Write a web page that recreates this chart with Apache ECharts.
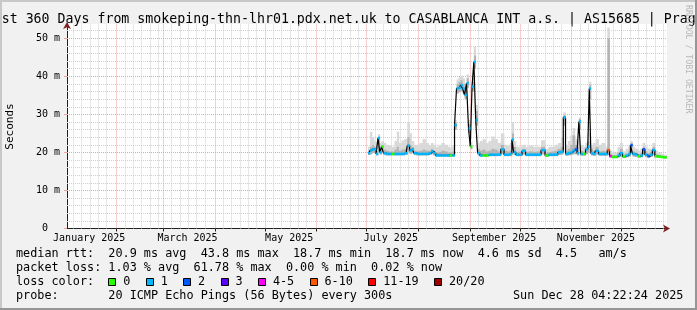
<!DOCTYPE html>
<html><head><meta charset="utf-8">
<script src="https://cdn.jsdelivr.net/npm/echarts@6/dist/echarts.min.js"></script>
<style>html,body{margin:0;padding:0;background:#f1f1f1;}#c{width:697px;height:310px;}</style>
</head><body><div id="c"></div>
<script>
// ---- data (day of year 2025, values in ms) ----
const sampleDay = [182.4,183.6,184.8,186.0,187.2,188.4,189.3,190.5,191.7,193.2,
 195.0,196.8,198.6,199.5,201.0,202.8,204.6,206.1,207.3,208.5,
 210.0,211.8,213.6,215.4,217.2,219.0,220.2,221.7,223.2,225.0,
 226.8,228.6,230.4,231.6,233.1,234.3,235.5,236.7,237.9,239.1,
 240.3,241.5,242.7,243.6,244.8,245.8,247.0,248.1,249.6,251.4,
 253.2,255.0,256.5,258.6,260.4,262.5,264.3,266.1,267.6,268.6,
 269.8,271.2,273.0,275.4,277.2,279.6,282.0,284.4,286.8,289.2,
 291.0,292.8,294.6,296.7,298.2,299.7,300.9,302.4,303.9,305.1,
 306.6,307.8,308.8,309.9,311.4,313.2,314.1,315.0,316.0,317.4,
 319.2,321.0,322.8,324.6,326.1,327.3,328.8,330.6,332.4,333.6,
 335.4,337.2,338.7,339.8,341.1,342.6,344.4,345.9,347.2,348.6,
 350.1,351.6,353.2,354.6,356.4,358.2,360.0];
const median = [19.8,20.5,20.8,20.8,19.6,23.8,20.0,21.5,19.8,19.6,
 19.6,19.6,19.6,19.6,19.6,19.6,19.8,21.8,20.5,20.8,
 19.8,19.6,19.6,19.6,19.6,19.8,20.3,19.8,19.2,19.2,
 19.2,19.2,19.2,19.2,19.2,27.2,36.8,37.0,37.7,36.8,
 35.1,38.2,26.3,21.5,37.3,43.8,28.5,19.8,19.2,19.2,
 19.2,19.4,19.4,19.4,19.4,20.8,19.4,19.4,19.6,23.4,
 20.0,19.4,19.4,20.4,19.4,19.4,19.4,19.4,20.6,19.2,
 19.4,19.4,19.4,20.0,20.2,29.2,19.6,19.8,20.0,20.5,
 20.8,19.8,28.1,19.6,19.6,20.8,21.5,36.8,19.8,19.6,
 20.4,19.6,19.6,19.6,20.6,19.0,18.8,18.8,19.2,19.8,
 18.9,19.2,19.6,21.9,19.6,19.4,19.0,19.2,20.8,19.4,
 19.0,19.4,20.6,19.0,18.9,18.8,18.7];
const smokeLow = [19.3,19.5,19.8,19.8,19.2,20.0,19.4,20.0,19.3,19.2,
 19.2,19.2,19.2,19.2,19.2,19.2,19.3,20.0,19.6,19.8,
 19.3,19.2,19.2,19.2,19.2,19.3,19.5,19.2,18.9,18.9,
 18.9,18.9,18.9,18.9,18.9,26.0,35.5,35.8,36.2,35.5,
 34.0,37.0,25.0,20.8,36.0,42.0,27.0,19.2,18.9,18.9,
 18.9,19.0,19.0,19.0,19.0,19.6,19.0,19.0,19.0,21.0,
 19.3,19.0,19.0,19.4,19.0,19.0,19.0,19.0,19.5,18.8,
 19.0,19.0,19.0,19.3,19.4,27.0,19.1,19.2,19.3,19.5,
 19.5,19.2,26.0,19.1,19.1,19.5,20.0,34.0,19.2,19.1,
 19.4,19.1,19.1,19.1,19.3,18.6,18.5,18.5,18.7,18.9,
 18.5,18.7,18.9,20.0,18.9,18.8,18.6,18.7,19.5,18.8,
 18.6,18.8,19.3,18.6,18.6,18.5,18.4];
const smokeMid = [20.5,21.5,22.0,21.5,20.5,24.2,21.0,22.0,20.8,20.5,
 20.3,20.3,20.8,21.5,20.5,20.8,21.0,24.0,22.0,21.5,
 20.5,20.3,20.5,20.8,20.5,20.5,21.0,20.5,20.0,20.2,
 20.5,20.3,20.0,20.0,20.3,27.8,38.0,38.5,39.0,38.0,
 36.5,39.5,27.5,22.0,38.5,45.5,31.0,21.0,20.5,20.8,
 20.3,20.5,21.0,20.8,20.3,22.0,20.5,20.3,20.5,25.0,
 21.5,20.2,20.2,21.0,20.2,20.3,20.2,20.3,21.5,20.0,
 20.2,20.3,20.5,21.0,21.5,29.8,20.5,21.0,22.0,24.5,
 22.0,21.5,28.8,20.5,20.3,21.5,23.0,37.8,21.0,20.5,
 21.5,20.3,20.5,20.3,50.0,19.6,19.3,19.3,20.0,21.0,
 19.5,19.8,20.5,22.5,20.3,20.0,19.6,20.0,21.5,20.3,
 19.8,20.2,21.5,19.6,19.4,19.2,19.0];
const smokeHigh = [21.5,25.4,24.0,23.0,22.5,24.8,22.5,23.0,22.5,22.0,
 21.8,21.5,23.0,25.5,22.5,23.2,23.5,28.0,25.0,23.0,
 22.0,22.0,22.5,23.5,22.5,22.0,22.5,22.0,21.5,22.0,
 22.5,22.0,21.5,21.2,21.8,28.5,39.2,39.8,40.2,39.5,
 37.8,40.5,28.5,22.8,39.5,47.8,32.5,22.5,23.0,23.5,
 22.5,23.0,24.2,23.5,22.5,25.0,22.0,21.8,22.5,28.0,
 23.0,21.5,21.5,22.0,21.5,21.8,21.5,21.5,23.2,21.0,
 21.5,21.5,22.0,22.5,24.0,30.5,22.0,23.0,24.5,26.4,
 23.5,23.0,29.2,22.0,21.5,22.5,25.0,38.6,22.0,22.5,
 23.5,22.0,22.5,21.5,52.8,20.5,20.0,20.0,21.5,22.5,
 20.3,21.0,21.8,23.0,21.5,21.0,20.5,21.0,22.5,21.5,
 21.0,21.0,22.5,20.5,20.0,19.6,19.4];
const lossBand = [1,1,1,1,1,1,1,0,1,1,
 1,0,1,1,1,1,1,1,1,1,
 1,1,1,1,1,1,1,1,1,1,
 1,1,1,0,1,1,1,1,1,1,
 1,1,1,0,1,1,1,1,1,0,
 0,1,1,1,1,1,1,1,1,1,
 1,1,1,1,1,1,1,1,1,0,
 1,1,1,1,1,1,1,1,1,1,
 2,1,1,1,0,1,1,1,1,1,
 1,1,1,1,5,4,0,0,1,1,
 0,1,1,2,1,1,0,1,2,1,
 2,1,1,0,0,0,0];
const lossLabels = ['0','1','2','3','4-5','6-10','11-19','20/20'];
const lossColors = ['#26ff00','#00b8ff','#0059ff','#5e00ff','#ff00ff','#ff5500','#ff0000','#a10000'];
const yTickValues = [0,10,20,30,40,50];
const xLabelText = ['January 2025','March 2025','May 2025','July 2025','September 2025','November 2025'];
const xLabelMonth = [0,2,4,6,8,10];
const titleText = 'st 360 Days from smokeping-thn-lhr01.pdx.net.uk to CASABLANCA INT a.s. | AS15685 | Prague';
const statRows = [
 'median rtt:  20.9 ms avg  43.8 ms max  18.7 ms min  18.7 ms now  4.6 ms sd  4.5   am/s',
 'packet loss: 1.03 % avg  61.78 % max  0.00 % min  0.02 % now',
 'loss color:',
 'probe:       20 ICMP Echo Pings (56 Bytes) every 300s'
];
const stampText = 'Sun Dec 28 04:22:24 2025';

// ---- layout ----
const DAY = 86400000;
const T0 = Date.UTC(2025,0,1);
const START = T0 + (1 + (4*3600+22*60+24)/86400)*DAY;
const END = START + 360*DAY;
const YMAX = 53.75;
const G = {left:67, right:30, top:24, bottom:81.5};
const plotW = 697 - G.left - G.right, plotH = 310 - G.top - G.bottom;
const MONO = 'DejaVu Sans Mono';
const CW = 7.1;

const times = sampleDay.map(d => T0 + d*DAY);
const N = times.length;
function leftEdge(i) { return i > 0 ? (times[i] + times[i-1]) / 2 : times[0] - (times[1]-times[0]) / 2; }
function rightEdge(i) { return i < N-1 ? (times[i] + times[i+1]) / 2 : times[i] + (times[i]-times[i-1]) / 2; }
const labelTimes = xLabelMonth.map(m => Date.UTC(2025, m, 15, 12));
const monthStarts = [];
for (let m = 1; m < 12; m++) monthStarts.push(Date.UTC(2025, m, 1));
const minorX = [];
for (let m = 0; m < 12; m++) for (const d of [6,11,16,21,26]) {
  const t = Date.UTC(2025, m, d); if (t > START && t < END) minorX.push(t);
}
const minorY = [], majorY = [10,20,30,40,50];
for (let v = 2; v < YMAX; v += 2) if (v % 10) minorY.push(v);

const baseX = {type:'value', min:START, max:END, position:'bottom',
  axisLine:{show:false,onZero:false}, axisTick:{show:false}, axisLabel:{show:false}, splitLine:{show:false}};
const baseY = {type:'value', min:0, max:YMAX, position:'left',
  axisLine:{show:false,onZero:false}, axisTick:{show:false}, axisLabel:{show:false}, splitLine:{show:false}};
const MINOR = {color:'#d0d0d0', type:[1,1], width:1};
const MAJOR = {color:'#f2a0a0', type:[1,1], width:1};

const graphics = [
  {type:'rect', shape:{x:0,y:0,width:697,height:2}, style:{fill:'#c8c8c8'}, silent:true},
  {type:'rect', shape:{x:0,y:0,width:2,height:310}, style:{fill:'#c8c8c8'}, silent:true},
  {type:'rect', shape:{x:0,y:308,width:697,height:2}, style:{fill:'#969696'}, silent:true},
  {type:'rect', shape:{x:695,y:0,width:2,height:310}, style:{fill:'#969696'}, silent:true}
];
function txt(text, x, y, size, opts) {
  opts = opts || {};
  return Object.assign({type:'text', x:x, y:y, silent:true, style:{text:text,
    font: size + 'px "' + (opts.family || MONO) + '"', fill: opts.fill || '#000',
    align: opts.align || 'left', textAlign: opts.align || 'left',
    verticalAlign:'middle', textVerticalAlign:'middle'}}, opts.rotation != null ? {rotation: opts.rotation} : {});
}
graphics.push(txt(titleText, 1.7, 19.5, 13.25));
graphics.push(txt('Seconds', 10, 126.5, 11, {align:'center', rotation:Math.PI/2}));
graphics.push(txt('RRDTOOL / TOBI OETIKER', 688.5, 5, 8.2, {fill:'#b8b8b8', rotation:-Math.PI/2}));
const rowY = [253.8, 267.8, 281.8, 295.8];
statRows.forEach((r,i) => graphics.push(txt(r, 16, rowY[i], 11.8)));
graphics.push(txt(stampText, 513, rowY[3], 11.8));
let bx = 16 + 13*CW;
lossLabels.forEach((lab,i) => {
  graphics.push({type:'rect', silent:true, shape:{x:Math.round(bx)+0.5, y:278.5, width:7, height:7},
    style:{fill:lossColors[i], stroke:'#000', lineWidth:1}});
  graphics.push(txt(lab, bx + 15, rowY[2], 11.8));
  bx += 15 + lab.length*CW + 15.3;
});

const chart = echarts.init(document.getElementById('c'), null, {width:697, height:310});
chart.setOption({
  animation:false,
  backgroundColor:'#f1f1f1',
  grid:{left:G.left, right:G.right, top:G.top, bottom:G.bottom, show:true, backgroundColor:'#ffffff', borderWidth:0},
  xAxis:[
    Object.assign({}, baseX, {axisLine:{show:true,onZero:false,lineStyle:{color:'#7f1f1f'}, symbol:['none','arrow'], symbolSize:[6,7], symbolOffset:[0,3]}}),
    Object.assign({}, baseX, {axisTick:{show:true, customValues:minorX, inside:true, length:plotH, lineStyle:MINOR}}),
    Object.assign({}, baseX, {axisTick:{show:true, customValues:monthStarts, inside:true, length:plotH, lineStyle:MAJOR}}),
    Object.assign({}, baseX, {
      axisLine:{show:true,onZero:false,lineStyle:{color:'#1f1f1f'}},
      axisTick:{show:true, customValues:monthStarts, length:3, lineStyle:{color:'#1f1f1f'}},
      axisLabel:{show:true, customValues:labelTimes, margin:5, fontFamily:MONO, fontSize:10, color:'#000',
        formatter: v => { let k = 0, best = Infinity; labelTimes.forEach((t,i)=>{ if (Math.abs(t-v) < best) {best = Math.abs(t-v); k = i;} }); return xLabelText[k]; }}
    })
  ],
  yAxis:[
    Object.assign({}, baseY, {axisLine:{show:true,onZero:false,lineStyle:{color:'#7f1f1f'}, symbol:['none','arrow'], symbolSize:[6,7], symbolOffset:[0,2]}}),
    Object.assign({}, baseY, {axisTick:{show:true, customValues:minorY, inside:true, length:plotW, lineStyle:MINOR}}),
    Object.assign({}, baseY, {axisTick:{show:true, customValues:majorY, inside:true, length:plotW, lineStyle:MAJOR}}),
    Object.assign({}, baseY, {
      axisLine:{show:true,onZero:false,lineStyle:{color:'#1f1f1f'}},
      axisTick:{show:true, customValues:yTickValues, length:3, lineStyle:{color:'#f2a0a0'}},
      axisLabel:{show:true, customValues:yTickValues, margin:7, fontFamily:MONO, fontSize:10, color:'#000',
        formatter: v => v === 0 ? '0  ' : v + ' m'}
    })
  ],
  series:[
    {type:'custom', name:'smoke', xAxisIndex:3, yAxisIndex:3, silent:true, z:1,
      data: times.map((t,i)=>[t, smokeLow[i], smokeMid[i], smokeHigh[i]]),
      renderItem: function(params, api) {
        const i = params.dataIndex;
        const a = api.coord([leftEdge(i), api.value(1)]);
        const b = api.coord([rightEdge(i), api.value(2)]);
        const c = api.coord([rightEdge(i), api.value(3)]);
        const w = b[0] - a[0] + 0.4;
        return {type:'group', children:[
          {type:'rect', shape:{x:a[0], y:c[1], width:w, height:b[1]-c[1]}, style:{fill:'#d9d9d9'}},
          {type:'rect', shape:{x:a[0], y:b[1], width:w, height:a[1]-b[1]}, style:{fill:'#b3b3b3'}}
        ]};
      }},
    {type:'line', xAxisIndex:3, yAxisIndex:3, step:'middle', symbol:'none', silent:true, z:2,
      lineStyle:{color:'#000', width:1.2}, data: times.map((t,i)=>[t, median[i]])},
    {type:'custom', name:'loss', xAxisIndex:3, yAxisIndex:3, silent:true, z:3,
      data: times.map((t,i)=>[t, median[i], lossBand[i]]),
      renderItem: function(params, api) {
        const i = params.dataIndex, v = api.value(1);
        const p0 = api.coord([leftEdge(i), v]), p1 = api.coord([rightEdge(i), v]);
        return {type:'rect', shape:{x:p0[0], y:p0[1]-1.25, width:Math.max(1, p1[0]-p0[0]+0.3), height:2.5},
          style:{fill: lossColors[api.value(2)]}};
      }}
  ],
  graphic: graphics
});
</script></body></html>
